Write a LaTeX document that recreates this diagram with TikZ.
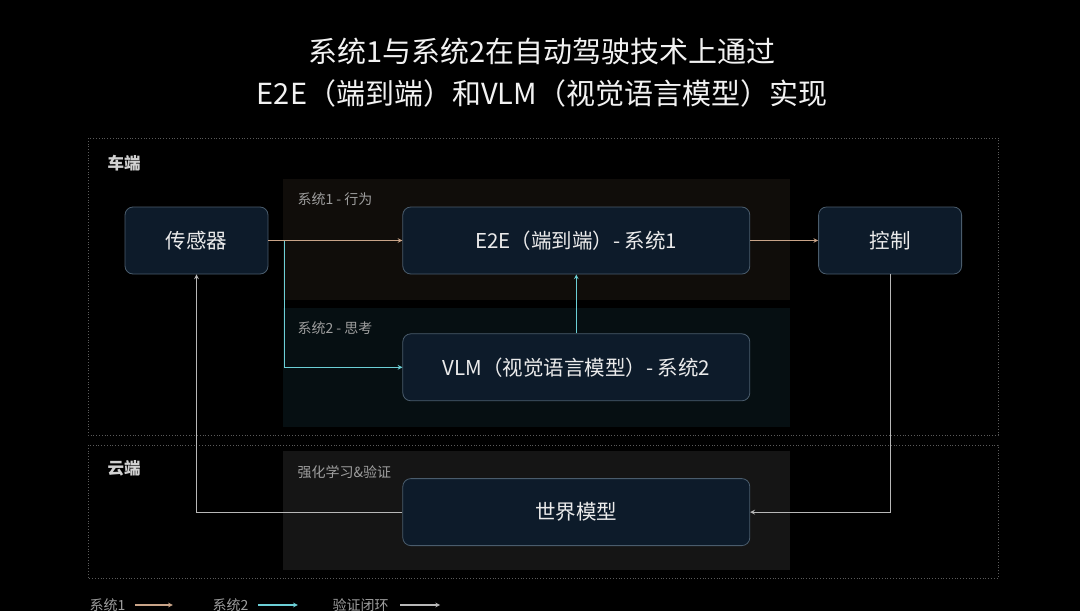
\documentclass[tikz,border=0pt]{standalone}
\usepackage{fontspec}
\newfontfamily\cjk{Noto Sans CJK SC}
\usepackage{xcolor}
\usepackage{tikz}
\usetikzlibrary{shapes.geometric, arrows, positioning}
\definecolor{bgblack}{HTML}{000000}
\definecolor{boxfill}{HTML}{0D1B2A}
\definecolor{boxline}{HTML}{4A5C6C}
\definecolor{sysonefill}{HTML}{100D0A}
\definecolor{systwofill}{HTML}{060F12}
\definecolor{cloudfill}{HTML}{151515}
\definecolor{tanline}{HTML}{C9A488}
\definecolor{cyanline}{HTML}{6CCFD6}
\definecolor{greyline}{HTML}{B8B8B8}
\definecolor{dotline}{HTML}{5A5A5A}
\tikzstyle{module} = [rectangle, rounded corners=8pt,
minimum height=67pt,
inner sep=0pt,
text centered,
draw=boxline, line width=0.8pt,
fill=boxfill,
text=white!92!black,
font=\cjk\fontsize{20.5}{24}\selectfont]
\tikzstyle{zone} = [draw=dotline, dotted, line width=0.8pt]
\tikzstyle{zonelabel} = [anchor=west, text=white!82!black, font=\cjk\bfseries\fontsize{16.5}{20}\selectfont]
\tikzstyle{grouplabel} = [anchor=west, text=white!62!black, font=\cjk\fontsize{14}{17}\selectfont]
\tikzstyle{s1arrow} = [draw=tanline, line width=1.1pt, ->, >=stealth]
\tikzstyle{s2arrow} = [draw=cyanline, line width=1.1pt, ->, >=stealth]
\tikzstyle{looparrow} = [draw=greyline, line width=1.1pt, ->, >=stealth]
\begin{document}
\begin{tikzpicture}[x=1pt, y=-1pt]
\fill[bgblack] (0,0) rectangle (1080,611);
\useasboundingbox (0,0) rectangle (1080,611);

% title
\node (title) at (542,73) [align=center, text=white!95!black,
  font=\cjk\fontsize{29}{42}\selectfont]
  {系统1与系统2在自动驾驶技术上通过\\E2E（端到端）和VLM（视觉语言模型）实现};

% zones and groups
\draw[zone] (88,138) rectangle (998,435);
\draw[zone] (88,445) rectangle (998,578);
\fill[sysonefill] (283,179) rectangle (790,300);
\fill[systwofill] (283,308) rectangle (790,427);
\fill[cloudfill] (283,451) rectangle (790,570);
\node (car) at (104,163) [zonelabel] {车端};
\node (cloud) at (104,468) [zonelabel] {云端};
\node (sysone) at (294,199) [grouplabel] {系统1 - 行为};
\node (systwo) at (294,328) [grouplabel] {系统2 - 思考};
\node (rl) at (294,472) [grouplabel] {强化学习\&验证};

% modules
\node (sensor) at (196.5,240.5) [module, minimum width=143pt] {传感器};
\node (e2e) [module, minimum width=347pt, right=134pt of sensor] {E2E（端到端）- 系统1};
\node (ctrl) [module, minimum width=143pt, right=68pt of e2e] {控制};
\node (vlm) [module, minimum width=347pt, below=59pt of e2e] {VLM（视觉语言模型）- 系统2};
\node (world) [module, minimum width=347pt, below=77pt of vlm] {世界模型};

% connectors
\coordinate (split) at ([xshift=16pt]sensor.east);
\draw [s1arrow] (sensor) -- (e2e);
\draw [s2arrow] (split) |- (vlm.west);
\draw [s2arrow] (vlm) -- (e2e);
\draw [s1arrow] (e2e) -- (ctrl);
\draw [looparrow] (ctrl) |- (world);
\draw [looparrow] (world) -| (sensor);

% legend
\node (legone) at (86,605) [grouplabel] {系统1};
\draw [s1arrow] ([xshift=6pt]legone.east) -- ++(38,0);
\node (legtwo) at (209,605) [grouplabel] {系统2};
\draw [s2arrow] ([xshift=6pt]legtwo.east) -- ++(40,0);
\node (legloop) at (329,605) [grouplabel] {验证闭环};
\draw [looparrow] ([xshift=8pt]legloop.east) -- ++(40,0);
\end{tikzpicture}
\end{document}
